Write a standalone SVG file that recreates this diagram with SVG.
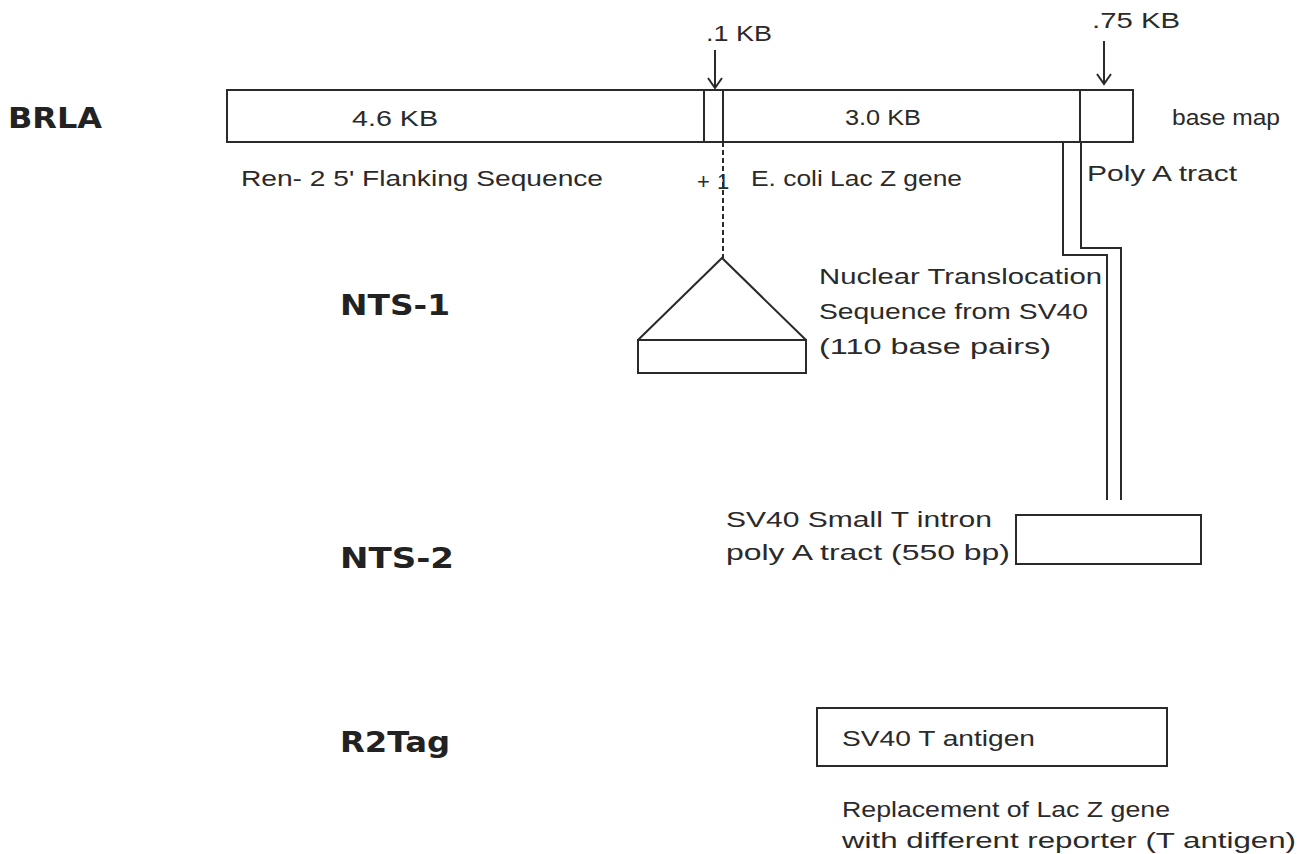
<svg xmlns="http://www.w3.org/2000/svg" width="1308" height="854" viewBox="0 0 1308 854">
<style>
.box{fill:#fff;stroke:#2a2a2a;stroke-width:2}
.ln{fill:none;stroke:#2a2a2a;stroke-width:2}
.lb{font-family:"DejaVu Sans",sans-serif;font-weight:bold;font-size:29px;fill:#222}
.t{font-family:"Liberation Sans",Arial,sans-serif;font-size:22px;fill:#2a2a2a}
</style>
<rect width="1308" height="854" fill="#fff"/>
<g id="labels">
<text class="lb" x="8" y="128" textLength="94" lengthAdjust="spacingAndGlyphs">BRLA</text>
<text class="lb" x="340" y="315" textLength="110" lengthAdjust="spacingAndGlyphs">NTS-1</text>
<text class="lb" x="340" y="568" textLength="114" lengthAdjust="spacingAndGlyphs">NTS-2</text>
<text class="lb" x="340" y="752" textLength="110" lengthAdjust="spacingAndGlyphs">R2Tag</text>
</g>
<g id="basemap">
<rect class="box" x="227" y="90" width="906" height="52"/>
<line class="ln" x1="704" y1="90" x2="704" y2="142"/>
<line class="ln" x1="723" y1="90" x2="723" y2="142"/>
<line class="ln" x1="1080" y1="90" x2="1080" y2="142"/>
<text class="t" x="352" y="126" textLength="86" lengthAdjust="spacingAndGlyphs">4.6 KB</text>
<text class="t" x="845" y="125" textLength="76" lengthAdjust="spacingAndGlyphs">3.0 KB</text>
<text class="t" x="1172" y="125" textLength="108" lengthAdjust="spacingAndGlyphs">base map</text>
<text class="t" x="706" y="41" textLength="66" lengthAdjust="spacingAndGlyphs">.1 KB</text>
<text class="t" x="1092" y="28" textLength="88" lengthAdjust="spacingAndGlyphs">.75 KB</text>
<text class="t" x="241" y="186" textLength="362" lengthAdjust="spacingAndGlyphs">Ren- 2 5' Flanking Sequence</text>
<text class="t" x="697" y="189">+<tspan x="717">1</tspan></text>
<text class="t" x="751" y="186" textLength="211" lengthAdjust="spacingAndGlyphs">E. coli Lac Z gene</text>
<text class="t" x="1087" y="181" textLength="150" lengthAdjust="spacingAndGlyphs">Poly A tract</text>
</g>
<g id="nts1">
<path class="ln" d="M638,340 L722,258 L806,340"/>
<rect class="box" x="638" y="340" width="168" height="33"/>
<text class="t" x="819" y="284" textLength="283" lengthAdjust="spacingAndGlyphs">Nuclear Translocation</text>
<text class="t" x="819" y="319" textLength="269" lengthAdjust="spacingAndGlyphs">Sequence from SV40</text>
<text class="t" x="819" y="354" textLength="232" lengthAdjust="spacingAndGlyphs">(110 base pairs)</text>
</g>
<g id="nts2">
<rect class="box" x="1016" y="515" width="185" height="49"/>
<text class="t" x="726" y="527" textLength="266" lengthAdjust="spacingAndGlyphs">SV40 Small T intron</text>
<text class="t" x="726" y="560" textLength="284" lengthAdjust="spacingAndGlyphs">poly A tract (550 bp)</text>
</g>
<g id="r2tag">
<rect class="box" x="817" y="708" width="350" height="58"/>
<text class="t" x="842" y="746" textLength="193" lengthAdjust="spacingAndGlyphs">SV40 T antigen</text>
<text class="t" x="842" y="817" textLength="328" lengthAdjust="spacingAndGlyphs">Replacement of Lac Z gene</text>
<text class="t" x="842" y="848" textLength="454" lengthAdjust="spacingAndGlyphs">with different reporter (T antigen)</text>
</g>
<g id="connectors">
<line class="ln" x1="715" y1="50" x2="715" y2="88"/>
<polyline class="ln" points="708,78 715,88 722,78"/>
<line class="ln" x1="1104" y1="41" x2="1104" y2="84"/>
<polyline class="ln" points="1097,74 1104,84 1111,74"/>
<line class="ln" x1="723" y1="142" x2="723" y2="258" stroke-dasharray="5,3"/>
<polyline class="ln" points="1063,142 1063,255 1107,255 1107,500"/>
<polyline class="ln" points="1081,142 1081,248 1121,248 1121,500"/>
</g>
</svg>
